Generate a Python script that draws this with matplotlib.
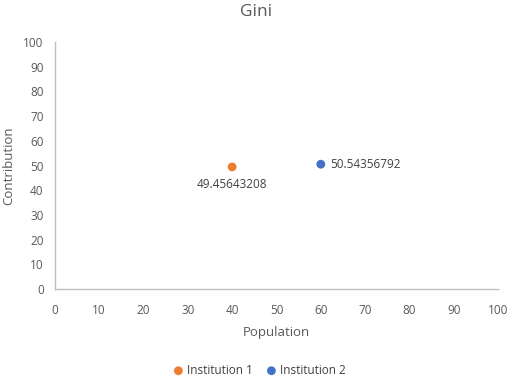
import matplotlib
matplotlib.use("Agg")
import matplotlib.pyplot as plt

plt.rcParams["font.family"] = ["Open Sans", "DejaVu Sans"]

series = ["Institution 1", "Institution 2"]
population = [40, 60]
contribution = [49.45643208, 50.54356792]
colors = ["#ED7D31", "#4472C4"]
ticks = list(range(0, 101, 10))

fig = plt.figure(figsize=(5.12, 3.78), dpi=100)
ax = fig.add_axes([0.107, 0.235, 0.866, 0.654])

for name, x, y, c in zip(series, population, contribution, colors):
    ax.scatter([x], [y], s=40, color=c, label=name, zorder=3, edgecolors="none")

# data labels: first below, second to the right
ax.annotate(f"{contribution[0]:.8f}", (population[0], contribution[0]),
            xytext=(0, -8), textcoords="offset points", ha="center", va="top",
            fontsize=8.5, color="#404040")
ax.annotate(f"{contribution[1]:.8f}", (population[1], contribution[1]),
            xytext=(7, 0), textcoords="offset points", ha="left", va="center",
            fontsize=8.5, color="#404040")

ax.set_xlim(0, 100)
ax.set_ylim(0, 100)
ax.set_xticks(ticks)
ax.set_yticks(ticks)
ax.tick_params(length=0, labelsize=8.5, colors="#595959")
ax.tick_params(axis="x", pad=11)
ax.tick_params(axis="y", pad=8)
for s in ["top", "right"]:
    ax.spines[s].set_visible(False)
for s in ["left", "bottom"]:
    ax.spines[s].set_color("#BFBFBF")
    ax.spines[s].set_linewidth(1)

ax.set_xlabel("Population", fontsize=9.5, color="#595959", labelpad=6)
ax.set_ylabel("Contribution", fontsize=9.5, color="#595959", labelpad=6)
fig.suptitle("Gini", x=0.5, y=0.99, fontsize=12.5, color="#595959")

fig.legend(loc="lower center", bbox_to_anchor=(0.5, -0.025), ncol=2, frameon=False,
           fontsize=8.5, handletextpad=-0.3, columnspacing=0.6, markerscale=1.0,
           labelcolor="#404040")

fig.savefig("out.png", dpi=100, facecolor="white")
